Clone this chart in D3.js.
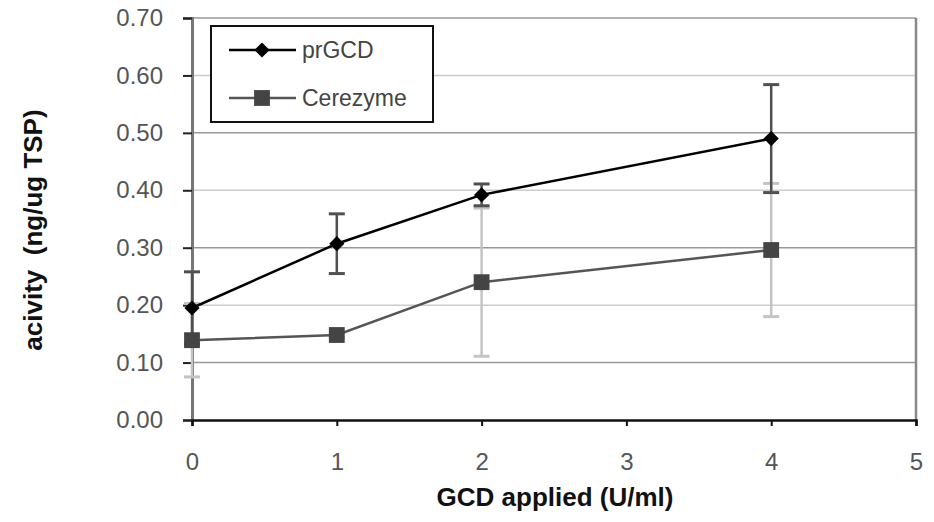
<!DOCTYPE html>
<html>
<head>
<meta charset="utf-8">
<script src="https://cdn.jsdelivr.net/npm/d3@7"></script>
<style>
  body { margin: 0; background: #fff; }
  svg { display: block; font-family: Arial, "Liberation Sans", sans-serif; }
</style>
</head>
<body>
<svg width="934" height="522"></svg>
<script>
// data
var doses = [0, 1, 2, 4];
var prGCD = [0.195, 0.307, 0.392, 0.490];
var prGCDErr = [0.063, 0.052, 0.019, 0.094];
var cerezyme = [0.139, 0.148, 0.240, 0.296];
var cerezymeErr = [0.064, 0.004, 0.129, 0.116];
var xTicks = [0, 1, 2, 3, 4, 5];
var yTicks = [0, 0.1, 0.2, 0.3, 0.4, 0.5, 0.6, 0.7];

var margin = {left: 192, right: 18, top: 18, bottom: 102};
var width = 934, height = 522;

var svg = d3.select('svg');
var x = d3.scaleLinear().domain([0, 5]).range([margin.left, width - margin.right]);
var y = d3.scaleLinear().domain([0, 0.7]).range([height - margin.bottom, margin.top]);

// gridlines
svg.append('g').selectAll('line').data(yTicks.slice(1))
  .enter().append('line')
    .attr('x1', x(0)).attr('x2', x(5))
    .attr('y1', function(d){ return y(d); })
    .attr('y2', function(d){ return y(d); })
    .attr('stroke', function(d, i){ return i % 2 ? '#cccccc' : '#999'; })
    .attr('stroke-width', 1.5);

// right frame
svg.append('line')
  .attr('x1', x(5)).attr('x2', x(5)).attr('y1', y(0.7)).attr('y2', y(0))
  .attr('stroke', '#888').attr('stroke-width', 2.5);

// axes
var yAxis = d3.axisLeft(y).tickValues(yTicks).tickFormat(d3.format('.2f')).tickSize(9).tickPadding(20);
var gy = svg.append('g').attr('transform', 'translate(' + x(0) + ',0)').call(yAxis);
gy.select('.domain').attr('stroke', '#777').attr('stroke-width', 3);
gy.selectAll('.tick line').attr('stroke', '#222').attr('stroke-width', 2);
gy.selectAll('.tick text').attr('font-size', 24).attr('fill', '#555').attr('font-family', 'Arial, "Liberation Sans", sans-serif');

var xAxis = d3.axisBottom(x).tickValues(xTicks).tickFormat(d3.format('d')).tickSize(6).tickPadding(27);
var gx = svg.append('g').attr('transform', 'translate(0,' + y(0) + ')').call(xAxis);
gx.select('.domain').attr('stroke', '#111').attr('stroke-width', 2.5);
gx.selectAll('.tick line').attr('stroke', '#111').attr('stroke-width', 2);
gx.selectAll('.tick text').attr('font-size', 24).attr('fill', '#555').attr('font-family', 'Arial, "Liberation Sans", sans-serif');

// error bars
function errorBars(vals, errs, color){
  var g = svg.append('g');
  doses.forEach(function(d, i){
    var lo = y(vals[i] - errs[i]), hi = y(vals[i] + errs[i]), cx = x(d);
    g.append('line').attr('x1', cx).attr('x2', cx).attr('y1', lo).attr('y2', hi)
      .attr('stroke', color).attr('stroke-width', 2.5);
    [lo, hi].forEach(function(yy){
      g.append('line').attr('x1', cx - 8).attr('x2', cx + 8).attr('y1', yy).attr('y2', yy)
        .attr('stroke', color).attr('stroke-width', 3);
    });
  });
}
errorBars(cerezyme, cerezymeErr, '#c4c4c4');
errorBars(prGCD, prGCDErr, '#505050');

var line = d3.line()
  .x(function(d){ return x(d[0]); })
  .y(function(d){ return y(d[1]); });

svg.append('path').datum(doses.map(function(d, i){ return [d, cerezyme[i]]; }))
  .attr('d', line).attr('fill', 'none').attr('stroke', '#555').attr('stroke-width', 2.5);
svg.append('path').datum(doses.map(function(d, i){ return [d, prGCD[i]]; }))
  .attr('d', line).attr('fill', 'none').attr('stroke', '#000').attr('stroke-width', 2.5);

var square = d3.symbol().type(d3.symbolSquare).size(250);
var diamond = d3.symbol().type(d3.symbolSquare).size(115); // rotated 45 below

svg.append('g').selectAll('path').data(cerezyme).enter().append('path')
  .attr('d', square)
  .attr('transform', function(d, i){ return 'translate(' + x(doses[i]) + ',' + y(d) + ')'; })
  .attr('fill', '#444');
svg.append('g').selectAll('path').data(prGCD).enter().append('path')
  .attr('d', diamond)
  .attr('transform', function(d, i){ return 'translate(' + x(doses[i]) + ',' + y(d) + ') rotate(45)'; })
  .attr('fill', '#000');

// legend
var legend = svg.append('g');
legend.append('rect').attr('x', 211).attr('y', 26).attr('width', 222).attr('height', 96)
  .attr('fill', '#fff').attr('stroke', '#111').attr('stroke-width', 2);
var entries = [
  {name: 'prGCD', color: '#000', sym: diamond, rot: 45, fill: '#000', yy: 50},
  {name: 'Cerezyme', color: '#555', sym: square, rot: 0, fill: '#444', yy: 98}
];
entries.forEach(function(e){
  legend.append('line').attr('x1', 229).attr('x2', 296).attr('y1', e.yy).attr('y2', e.yy)
    .attr('stroke', e.color).attr('stroke-width', 2.5);
  legend.append('path').attr('d', e.sym)
    .attr('transform', 'translate(262,' + e.yy + ') rotate(' + e.rot + ')').attr('fill', e.fill);
  legend.append('text').attr('x', 302).attr('y', e.yy + 8).attr('font-size', 23).attr('fill', '#444').text(e.name);
});

// axis titles
svg.append('text').attr('x', 555).attr('y', 506).attr('text-anchor', 'middle')
  .attr('font-size', 26).attr('font-weight', 'bold').attr('fill', '#111').text('GCD applied (U/ml)');
svg.append('text').attr('transform', 'translate(42,230) rotate(-90)').attr('text-anchor', 'middle')
  .attr('font-size', 26).attr('font-weight', 'bold').attr('fill', '#111')
  .attr('xml:space', 'preserve').style('white-space', 'pre').text('acivity  (ng/ug TSP)');
</script>
</body>
</html>
